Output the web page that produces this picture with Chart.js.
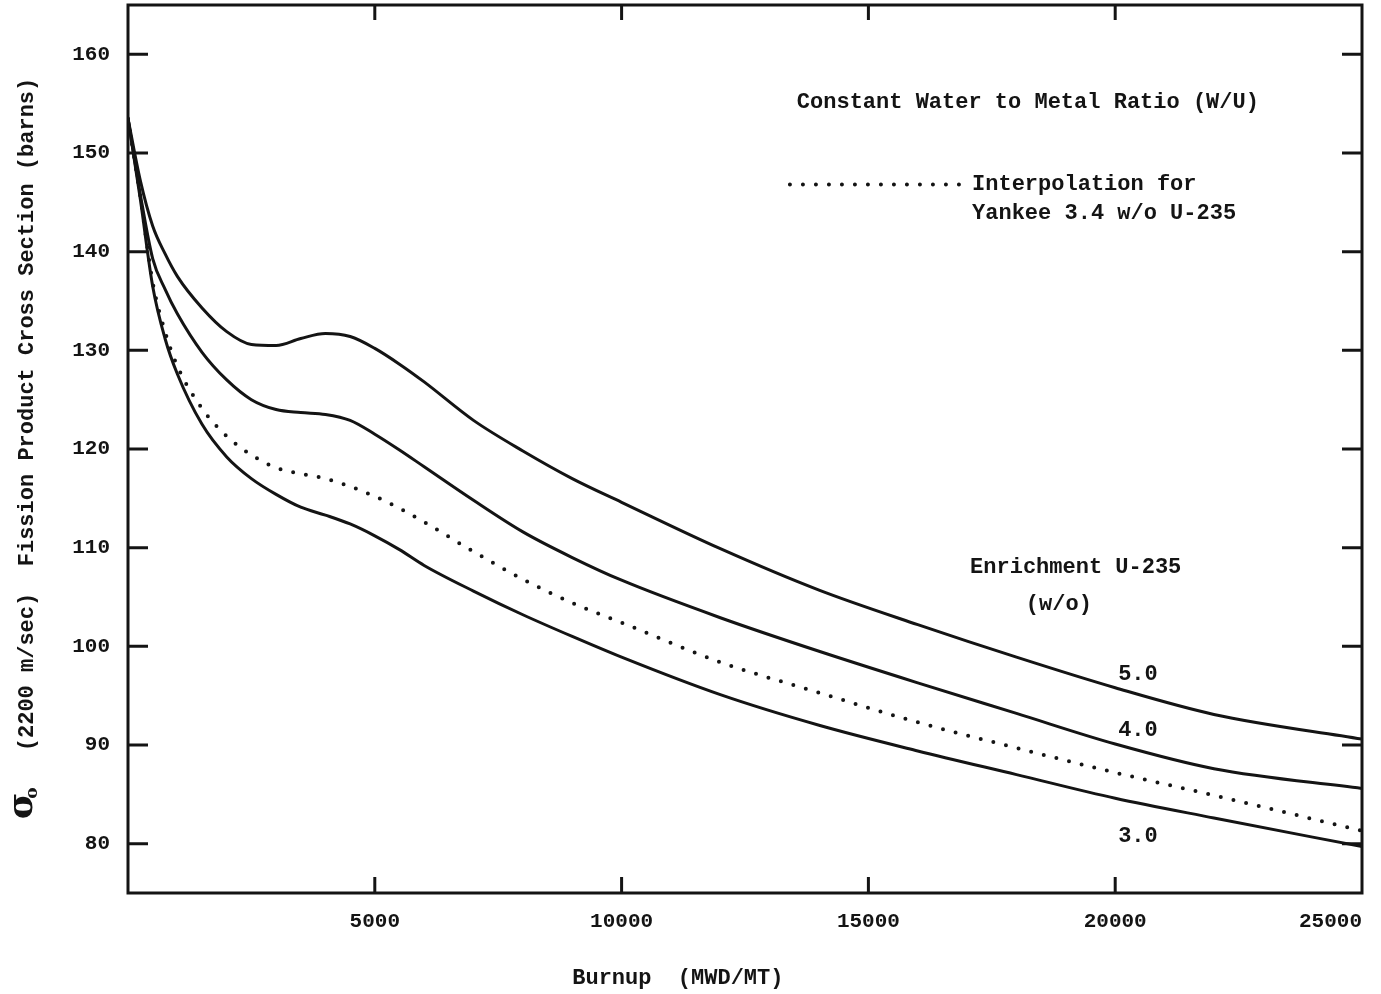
<!DOCTYPE html>
<html>
<head>
<meta charset="utf-8">
<script src="https://cdn.jsdelivr.net/npm/chart.js@4.4.1/dist/chart.umd.min.js"></script>
<style>
  html, body { margin: 0; padding: 0; background: #fff; }
  #wrap { width: 1381px; height: 994px; }
</style>
</head>
<body>
<div id="wrap"><canvas id="fp-chart"></canvas></div>
<script>
// burnup (MWD/MT) and fission product cross section (barns)
const burnup   = [0, 250, 500, 750, 1000, 1500, 2000, 2500, 3000, 3500, 4000, 4500, 5000, 5500, 6000, 7000, 8000, 9000, 10000, 12000, 14000, 16000, 18000, 20000, 22000, 25000];
const enr50    = [153.5, 147.2, 142.6, 139.8, 137.5, 134.3, 131.9, 130.6, 130.5, 131.2, 131.7, 131.4, 130.2, 128.6, 126.8, 122.9, 119.8, 117.0, 114.6, 109.9, 105.7, 102.2, 98.9, 95.8, 93.1, 90.6];
const enr40    = [153.5, 145.8, 139.3, 136.2, 133.7, 129.8, 127.0, 125.0, 124.0, 123.7, 123.5, 122.9, 121.5, 119.9, 118.2, 114.8, 111.6, 109.0, 106.7, 102.9, 99.5, 96.3, 93.2, 90.1, 87.6, 85.6];
const interp34 = [153.5, 145.6, 136.9, 131.9, 128.4, 124.1, 121.3, 119.4, 118.1, 117.5, 117.0, 116.2, 115.2, 114.0, 112.6, 109.6, 106.8, 104.4, 102.4, 98.4, 95.3, 92.3, 89.7, 87.2, 84.9, 81.3];
const enr30    = [153.5, 145.3, 136.5, 131.2, 127.6, 122.5, 119.2, 117.0, 115.4, 114.1, 113.3, 112.4, 111.2, 109.8, 108.2, 105.6, 103.2, 101.0, 98.9, 95.1, 92.0, 89.4, 87.0, 84.6, 82.6, 79.7];

const xTicks = [5000, 10000, 15000, 20000, 25000];
const yTicks = [80, 90, 100, 110, 120, 130, 140, 150, 160];

const mono = '"Liberation Mono", "DejaVu Sans Mono", monospace';
const ink = '#141414';

const pts = ys => burnup.map((b, i) => ({ x: b, y: ys[i] }));

const solid = ys => ({
  data: pts(ys),
  borderColor: ink,
  borderWidth: 3,
  pointRadius: 0,
  fill: false,
  cubicInterpolationMode: 'monotone'
});

// free text on the plot, anchored in data units
const notes = [
  { text: 'Constant Water to Metal Ratio (W/U)', x: 13550, y: 155.1 },
  { text: 'Interpolation for', x: 17100, y: 146.8 },
  { text: 'Yankee 3.4 w/o U-235', x: 17100, y: 143.9 },
  { text: 'Enrichment U-235', x: 17060, y: 108.0 },
  { text: '(w/o)', x: 18190, y: 104.2 },
  { text: '5.0', x: 20060, y: 97.1 },
  { text: '4.0', x: 20060, y: 91.5 },
  { text: '3.0', x: 20060, y: 80.7 }
];

const frame = {
  id: 'frame',
  afterDraw(chart) {
    const { ctx, chartArea: a, scales: { x, y } } = chart;
    ctx.save();
    ctx.strokeStyle = ink;
    ctx.fillStyle = ink;
    ctx.lineWidth = 3;
    ctx.strokeRect(a.left, a.top, a.right - a.left, a.bottom - a.top);

    // inward ticks on all four sides
    ctx.beginPath();
    yTicks.forEach(v => {
      const py = y.getPixelForValue(v);
      ctx.moveTo(a.left, py); ctx.lineTo(a.left + 20, py);
      ctx.moveTo(a.right, py); ctx.lineTo(a.right - 20, py);
    });
    xTicks.forEach(v => {
      if (v >= 25000) return;
      const px = x.getPixelForValue(v);
      ctx.moveTo(px, a.bottom); ctx.lineTo(px, a.bottom - 16);
      ctx.moveTo(px, a.top); ctx.lineTo(px, a.top + 15);
    });
    ctx.stroke();

    // legend sample for the dotted curve
    ctx.save();
    ctx.lineWidth = 4;
    ctx.lineCap = 'round';
    ctx.setLineDash([0, 13]);
    ctx.beginPath();
    ctx.moveTo(x.getPixelForValue(13410), y.getPixelForValue(146.8));
    ctx.lineTo(x.getPixelForValue(16900), y.getPixelForValue(146.8));
    ctx.stroke();
    ctx.restore();

    ctx.font = 'bold 22px ' + mono;
    ctx.textAlign = 'left';
    ctx.textBaseline = 'middle';
    notes.forEach(n => ctx.fillText(n.text, x.getPixelForValue(n.x), y.getPixelForValue(n.y)));

    // x axis title
    ctx.fillText('Burnup  (MWD/MT)', x.getPixelForValue(9000), 978);

    // y axis title, rotated
    ctx.save();
    ctx.translate(27, 0);
    ctx.rotate(-Math.PI / 2);
    ctx.textAlign = 'center';
    ctx.fillText('Fission Product Cross Section (barns)', -322, 0);
    ctx.fillText('(2200 m/sec)', -672, 0);
    ctx.font = 'bold 36px "DejaVu Serif", serif';
    ctx.fillText('σ', -806, -4);
    ctx.font = 'bold 17px "DejaVu Serif", serif';
    ctx.fillText('o', -793, 6);
    ctx.restore();

    ctx.restore();
  }
};

new Chart(document.getElementById('fp-chart'), {
  type: 'line',
  data: {
    datasets: [
      solid(enr50),
      solid(enr40),
      {
        data: pts(interp34),
        borderColor: ink,
        borderWidth: 4,
        borderCapStyle: 'round',
        borderDash: [0, 13],
        pointRadius: 0,
        fill: false,
        cubicInterpolationMode: 'monotone'
      },
      solid(enr30)
    ]
  },
  options: {
    responsive: true,
    maintainAspectRatio: false,
    animation: false,
    layout: { padding: { left: 0, right: 19, top: 5, bottom: 0 } },
    plugins: { legend: { display: false }, tooltip: { enabled: false } },
    scales: {
      x: {
        type: 'linear',
        min: 0,
        max: 25000,
        // 0 is kept as an unlabelled tick so only the last label is pulled inward
        afterBuildTicks: s => { s.ticks = [0, ...xTicks].map(v => ({ value: v })); },
        afterFit: s => { s.height = 101; s.paddingLeft = 0; s.paddingRight = 0; },
        grid: { display: false, drawTicks: false },
        border: { display: false },
        ticks: {
          align: 'inner',
          padding: 16,
          color: ink,
          font: { family: mono, size: 21, weight: 'bold' },
          callback: v => (v === 0 ? '' : String(v))
        }
      },
      y: {
        min: 75,
        max: 165,
        afterBuildTicks: s => { s.ticks = yTicks.map(v => ({ value: v })); },
        afterFit: s => { s.width = 128; s.paddingTop = 0; s.paddingBottom = 0; },
        grid: { display: false, drawTicks: false },
        border: { display: false },
        ticks: {
          padding: 18,
          color: ink,
          font: { family: mono, size: 21, weight: 'bold' }
        }
      }
    }
  },
  plugins: [frame]
});
</script>
</body>
</html>
